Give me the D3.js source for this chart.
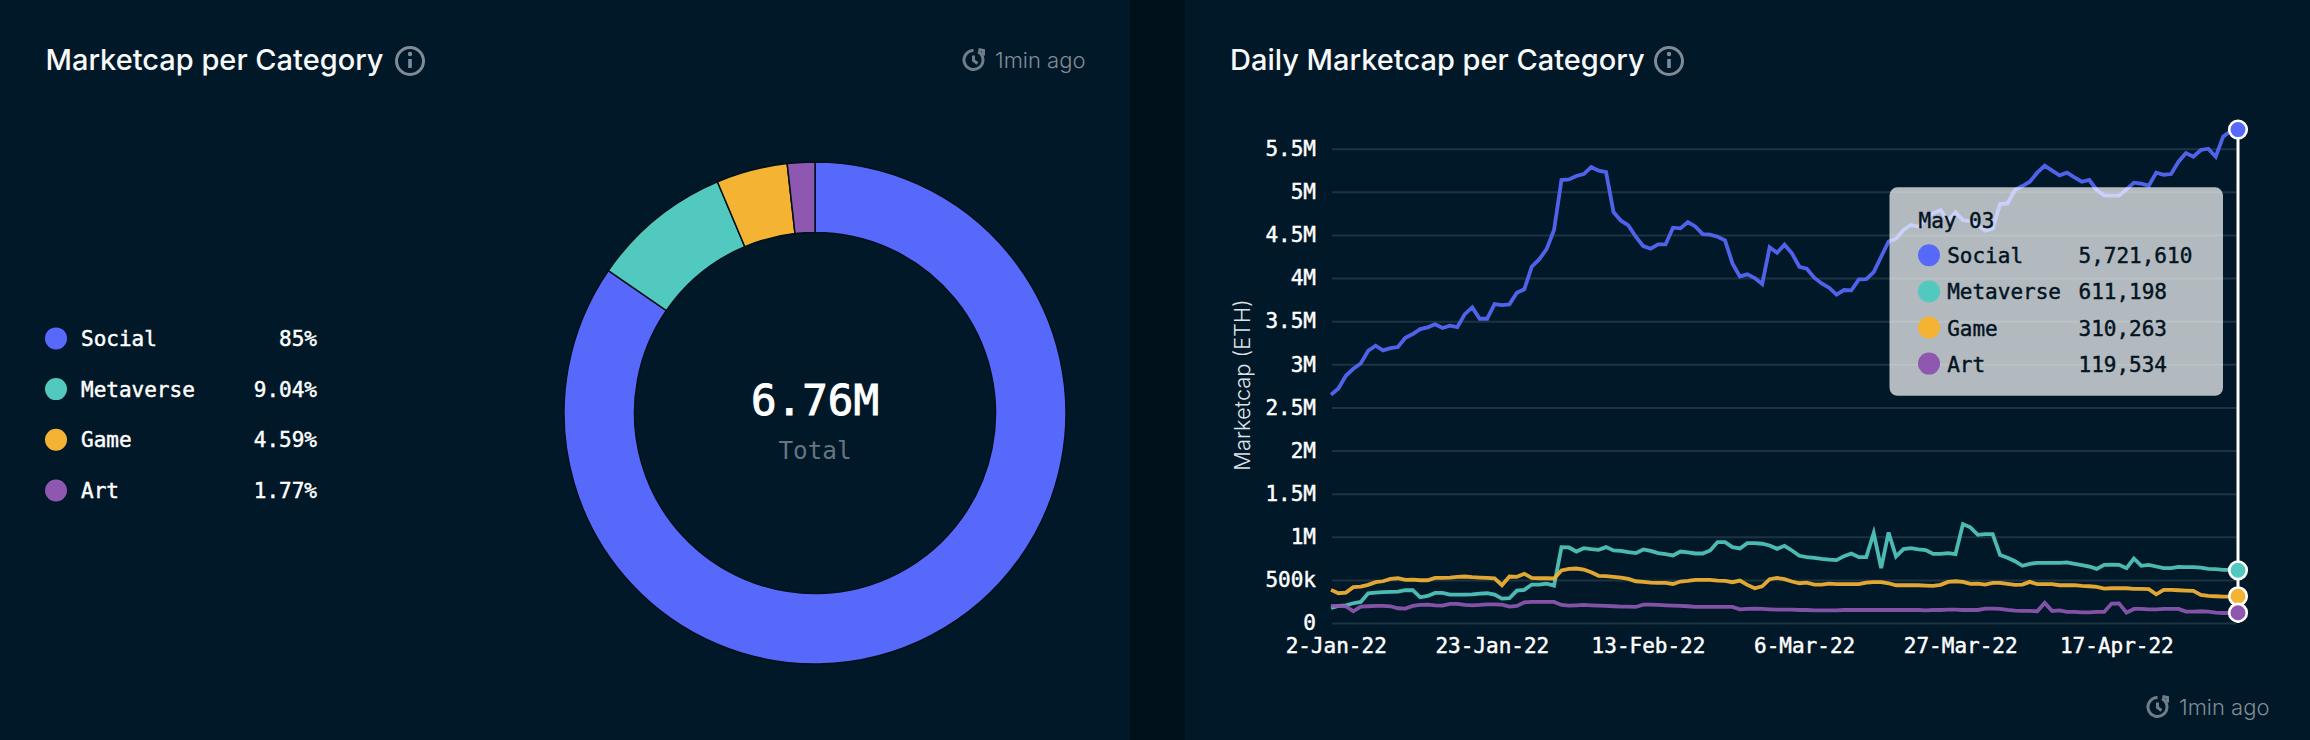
<!DOCTYPE html>
<html>
<head>
<meta charset="utf-8">
<script src="https://cdn.jsdelivr.net/npm/d3@7"></script>
<style>
  html, body { margin: 0; padding: 0; background: #011828; }
  svg { display: block; }
  .mono { font-family: "DejaVu Sans Mono", monospace; }
  .sans { font-family: Inter, sans-serif; }
</style>
</head>
<body>
<svg id="chart" width="2310" height="740"></svg>
<script>
// Values, thousands of ETH, one per day from 1-Jan-22 to 3-May-22
const social = [2647,2720,2867,2948,3010,3157,3215,3161,3188,3200,3308,3351,3408,3428,3463,3420,3447,3432,3582,3660,3528,3528,3698,3687,3695,3830,3869,4131,4216,4336,4557,5137,5144,5183,5206,5287,5245,5229,4765,4665,4611,4479,4371,4340,4390,4390,4584,4576,4649,4599,4510,4503,4479,4437,4170,4019,4043,4000,3930,4356,4294,4387,4286,4131,4108,4004,3938,3888,3807,3861,3857,3985,3988,4070,4247,4425,4456,4557,4615,4595,4692,4750,4789,4665,4762,4673,4657,4615,4549,4576,4858,4866,5021,5067,5117,5222,5303,5245,5191,5222,5168,5117,5137,5021,4959,4955,4955,5028,5106,5094,5071,5222,5198,5206,5349,5450,5407,5485,5500,5407,5639,5705,5721.61];
const metaverse = [174,198,205,229,244,345,353,357,360,364,380,380,298,314,349,349,329,329,329,333,341,345,329,283,287,376,384,446,446,457,434,880,876,829,868,857,849,880,841,837,822,810,853,837,810,798,783,829,818,806,806,841,938,938,880,864,926,926,919,899,860,895,841,779,764,756,744,736,729,775,806,764,764,1043,636,1050,771,857,868,853,845,802,802,810,798,1147,1109,1023,1031,1031,787,756,717,663,686,698,698,698,698,702,686,671,655,628,674,678,674,636,748,663,674,655,636,636,651,647,647,643,628,624,616,616,611.198];
const game = [384,345,353,415,422,442,473,484,512,519,500,504,496,496,523,523,527,535,539,531,527,523,519,438,539,535,570,523,519,519,516,609,628,632,620,589,547,543,535,527,512,484,477,469,465,465,453,481,488,500,500,500,492,488,473,492,442,403,426,508,523,508,481,461,469,446,446,457,450,450,450,450,469,473,473,461,438,438,438,438,434,430,442,477,484,477,453,457,446,465,465,453,442,446,477,450,450,450,438,438,438,430,426,419,399,403,403,403,395,395,392,333,384,384,380,376,372,326,314,310,306,306,310.263];
const art = [198,198,194,136,190,194,198,198,194,171,167,198,209,213,205,202,221,221,209,205,209,217,217,213,190,198,240,244,244,244,244,209,202,205,209,205,202,198,194,190,190,186,213,213,209,205,202,198,194,186,186,186,186,186,186,159,163,167,163,159,155,155,155,151,151,147,147,147,147,151,151,151,151,151,151,151,151,151,151,151,147,151,151,155,155,151,151,151,167,167,163,151,143,140,140,136,233,140,147,128,128,124,124,128,128,225,228,120,163,163,159,159,163,163,163,132,132,136,132,120,116,116,119.534];

const categories = ['Social', 'Metaverse', 'Game', 'Art'];
const seriesValues = [social, metaverse, game, art];
const colors = ['#5669fa', '#52c9bf', '#f5b334', '#8e58b1'];
const shareLabels = ['85%', '9.04%', '4.59%', '1.77%'];
const tooltipValues = ['5,721,610', '611,198', '310,263', '119,534'];
const yTicks = [0, 500, 1000, 1500, 2000, 2500, 3000, 3500, 4000, 4500, 5000, 5500];
const yTickLabels = ['0', '500k', '1M', '1.5M', '2M', '2.5M', '3M', '3.5M', '4M', '4.5M', '5M', '5.5M'];
const xTickLabels = ['2-Jan-22', '23-Jan-22', '13-Feb-22', '6-Mar-22', '27-Mar-22', '17-Apr-22'];

const parseTick = d3.timeParse('%-d-%b-%y');
const dates = d3.timeDay.range(new Date(2022, 0, 1), new Date(2022, 4, 4));
const latest = seriesValues.map(s => s[s.length - 1]);

const svg = d3.select('#chart');
const panelColor = '#011828';
const titleGray = '#7f8c96';

// Background, with the darker gutter between the two cards
svg.append('rect').attr('width', 2310).attr('height', 740).attr('fill', panelColor);
svg.append('rect').attr('x', 1130).attr('width', 55).attr('height', 740).attr('fill', '#01111c');

function addTitle(x, text) {
  svg.append('text')
    .attr('class', 'sans')
    .attr('x', x)
    .attr('y', 70)
    .attr('font-size', 29)
    .attr('font-weight', 550)
    .attr('fill', '#f7f9fa')
    .text(text);
}

function infoIcon(cx, cy) {
  const g = svg.append('g').attr('transform', `translate(${cx},${cy})`)
    .attr('stroke', titleGray).attr('fill', 'none');
  g.append('circle').attr('r', 13.5).attr('stroke-width', 3);
  g.append('line').attr('y1', -2).attr('y2', 7).attr('stroke-width', 3.6);
  g.append('circle').attr('cy', -7).attr('r', 2.2).attr('fill', titleGray).attr('stroke', 'none');
}

function updatedLabel(iconX, textX, cy) {
  const g = svg.append('g').attr('transform', `translate(${iconX},${cy})`)
    .attr('stroke', '#6f7e89').attr('fill', 'none').attr('stroke-width', 3);
  g.append('path').attr('d', d3.arc()({
    innerRadius: 9.5, outerRadius: 9.5, startAngle: 0.5, endAngle: 2 * Math.PI
  }));
  g.append('path').attr('d', 'M0,-4.5V0.5L4,3.5');
  g.append('path').attr('d', 'M5,-10.5L10,-9.5L10,-4.5');
  svg.append('text')
    .attr('class', 'sans')
    .attr('x', textX)
    .attr('y', cy + 8)
    .attr('font-size', 22)
    .attr('font-weight', 300)
    .attr('fill', titleGray)
    .text('1min ago');
}

addTitle(45.5, 'Marketcap per Category');
infoIcon(410, 61);
updatedLabel(973.5, 995, 60);

addTitle(1230, 'Daily Marketcap per Category');
infoIcon(1669, 61);
updatedLabel(2157.5, 2179, 707);

// Donut
const pie = d3.pie().sort(null).value(d => d);
const arc = d3.arc().innerRadius(180.5).outerRadius(251);
const donut = svg.append('g').attr('transform', 'translate(815,413)');

donut.selectAll('path')
  .data(pie(latest))
  .enter().append('path')
  .attr('d', arc)
  .attr('fill', (d, i) => colors[i])
  .attr('stroke', '#01101a')
  .attr('stroke-width', 1.5);

const totalValue = donut.append('text')
  .attr('class', 'mono')
  .attr('text-anchor', 'middle')
  .attr('y', 2)
  .attr('font-size', 42.5)
  .attr('fill', '#fff')
  .text(d3.format('.3s')(d3.sum(latest) * 1000));

const totalLabel = donut.append('text')
  .attr('class', 'mono')
  .attr('text-anchor', 'middle')
  .attr('y', 46)
  .attr('font-size', 24.3)
  .attr('fill', '#66757f')
  .text('Total');

// Legend
const legend = svg.append('g').selectAll('g')
  .data(categories)
  .enter().append('g')
  .attr('transform', (d, i) => `translate(56,${338.4 + i * 50.7})`);

legend.append('circle').attr('r', 11).attr('fill', (d, i) => colors[i]);
legend.append('text')
  .attr('class', 'mono')
  .attr('x', 25)
  .attr('y', 7.5)
  .attr('font-size', 21)
  .attr('fill', '#fff')
  .text(d => d);
legend.append('text')
  .attr('class', 'mono')
  .attr('x', 261)
  .attr('y', 7.5)
  .attr('text-anchor', 'end')
  .attr('font-size', 21)
  .attr('fill', '#fff')
  .text((d, i) => shareLabels[i]);

// Scales and axes for the line chart
const x = d3.scaleTime().domain(d3.extent(dates)).range([1331, 2238]);
const y = d3.scaleLinear().domain([0, 5500]).range([623, 148.7]);

const yAxis = d3.axisLeft(y)
  .tickValues(yTicks)
  .tickFormat((d, i) => yTickLabels[i])
  .tickSize(-904)
  .tickPadding(16);

const yGroup = svg.append('g').attr('transform', 'translate(1332,0)').call(yAxis);
yGroup.select('.domain').remove();
yGroup.selectAll('line').attr('stroke', '#1d3341').attr('stroke-width', 2);
yGroup.selectAll('text')
  .attr('class', 'mono')
  .attr('font-size', 21)
  .attr('fill', '#fff');

const xAxis = d3.axisBottom(x)
  .tickValues(xTickLabels.map(parseTick))
  .tickFormat((d, i) => xTickLabels[i])
  .tickSize(0)
  .tickPadding(0);

const xGroup = svg.append('g').attr('transform', 'translate(-2.7,637.7)').call(xAxis);
xGroup.select('.domain').remove();
xGroup.selectAll('text')
  .attr('class', 'mono')
  .attr('font-size', 21)
  .attr('fill', '#fff');

svg.append('text')
  .attr('class', 'sans')
  .attr('transform', 'translate(1250,385) rotate(-90)')
  .attr('text-anchor', 'middle')
  .attr('font-size', 21.8)
  .attr('font-weight', 300)
  .attr('fill', '#dfe3e6')
  .text('Marketcap (ETH)');

// Lines
const line = d3.line().x((d, i) => x(dates[i])).y(d => y(d));

svg.append('g').selectAll('path')
  .data(seriesValues)
  .enter().append('path')
  .attr('d', line)
  .attr('fill', 'none')
  .attr('stroke', (d, i) => colors[i])
  .attr('stroke-opacity', 0.92)
  .attr('stroke-width', 3.8);

// Tooltip, translucent so the lines and gridlines show through
const lastDate = dates[dates.length - 1];

svg.append('line')
  .attr('x1', x(lastDate))
  .attr('x2', x(lastDate))
  .attr('y1', y(latest[0]))
  .attr('y2', y(0))
  .attr('stroke', '#fff')
  .attr('stroke-width', 3);

svg.append('g').selectAll('circle')
  .data(latest)
  .enter().append('circle')
  .attr('cx', x(lastDate))
  .attr('cy', d => y(d))
  .attr('r', 8.8)
  .attr('fill', (d, i) => colors[i])
  .attr('stroke', '#fff')
  .attr('stroke-width', 2.6);

const tooltip = svg.append('g').attr('transform', 'translate(1889.5,187.3)');

tooltip.append('rect')
  .attr('width', 333.5)
  .attr('height', 208.5)
  .attr('rx', 8)
  .attr('fill', '#fff')
  .attr('fill-opacity', 0.7);

tooltip.append('text')
  .attr('class', 'mono')
  .attr('x', 29)
  .attr('y', 41)
  .attr('font-size', 21)
  .attr('fill', '#03141f')
  .text(d3.timeFormat('%b %d')(lastDate));

const rows = tooltip.selectAll('.row')
  .data(categories)
  .enter().append('g')
  .attr('class', 'row')
  .attr('transform', (d, i) => `translate(0,${68 + i * 36.1})`);

rows.append('circle').attr('cx', 39.5).attr('r', 11).attr('fill', (d, i) => colors[i]);
rows.append('text')
  .attr('class', 'mono')
  .attr('x', 57.7)
  .attr('y', 8)
  .attr('font-size', 21)
  .attr('fill', '#03141f')
  .text(d => d);
rows.append('text')
  .attr('class', 'mono')
  .attr('x', 189)
  .attr('y', 8)
  .attr('font-size', 21)
  .attr('fill', '#03141f')
  .text((d, i) => tooltipValues[i]);

// The reference's mono face is a medium weight, thicken the regular one a little
svg.selectAll('text.mono').each(function () {
  const t = d3.select(this);
  t.attr('stroke', t.attr('fill')).attr('stroke-width', 0.45);
});
totalValue.attr('stroke-width', 1);
totalLabel.attr('stroke', 'none');
</script>
</body>
</html>
